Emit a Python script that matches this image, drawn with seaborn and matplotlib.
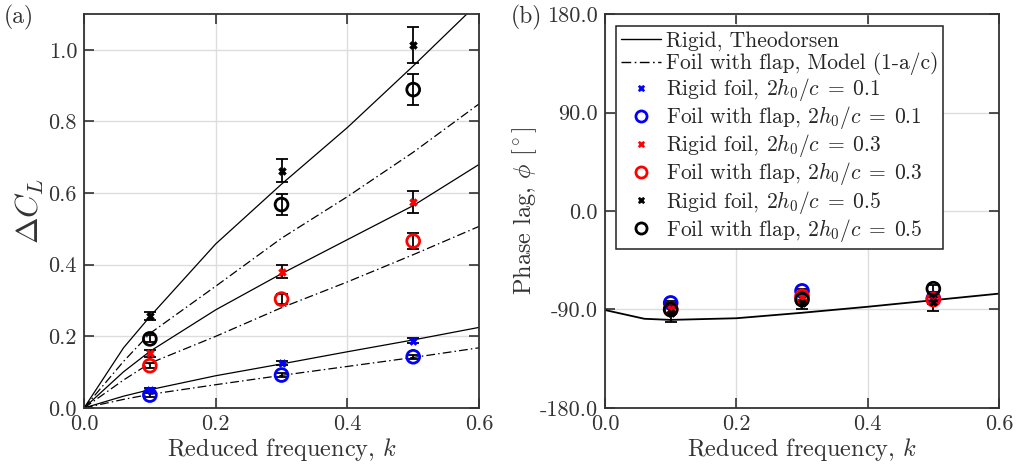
import numpy as np
import pandas as pd
import matplotlib
matplotlib.use('Agg')
import matplotlib.pyplot as plt
from matplotlib.lines import Line2D
from matplotlib.ticker import FormatStrFormatter
import seaborn as sns

# ============================================================
# DATA
# ============================================================

k_exp = [0.1, 0.3, 0.5]
amps = ['0.1', '0.3', '0.5']
colors = ['blue', 'red', 'black']

# Lift amplitude, experiment
cl_rigid = {'0.1': [0.050, 0.125, 0.188],
            '0.3': [0.153, 0.381, 0.575],
            '0.5': [0.257, 0.663, 1.013]}
cl_rigid_err = {'0.1': [0.006, 0.006, 0.007],
                '0.3': [0.010, 0.018, 0.030],
                '0.5': [0.010, 0.032, 0.050]}
cl_flap = {'0.1': [0.036, 0.092, 0.143],
           '0.3': [0.118, 0.304, 0.466],
           '0.5': [0.193, 0.568, 0.889]}
cl_flap_err = {'0.1': [0.005, 0.005, 0.006],
               '0.3': [0.007, 0.015, 0.023],
               '0.5': [0.010, 0.029, 0.043]}

# Model curves
k_model = [0.0, 0.06, 0.1, 0.2, 0.3, 0.4, 0.5, 0.6]
cl_theo = {'0.1': [0.0, 0.033, 0.051, 0.090, 0.123, 0.157, 0.190, 0.225],
           '0.3': [0.0, 0.101, 0.158, 0.274, 0.375, 0.470, 0.565, 0.680],
           '0.5': [0.0, 0.168, 0.255, 0.458, 0.625, 0.783, 0.955, 1.133]}
cl_model = {'0.1': [0.0, 0.024, 0.038, 0.065, 0.091, 0.116, 0.141, 0.168],
            '0.3': [0.0, 0.078, 0.125, 0.200, 0.280, 0.352, 0.428, 0.507],
            '0.5': [0.0, 0.130, 0.208, 0.340, 0.474, 0.590, 0.714, 0.849]}

# Phase lag
phase_theo = [-90.5, -98.5, -99.5, -98.0, -93.0, -87.5, -81.5, -75.5]
ph_rigid = {'0.1': [-86, -76, -81], '0.3': [-90, -79, -82], '0.5': [-93, -84, -83]}
ph_rigid_err = {'0.1': [2, 2, 2], '0.3': [3, 3, 3], '0.5': [8, 6, 8]}
ph_flap = {'0.1': [-84, -73, -80], '0.3': [-90, -78, -81], '0.5': [-90, -81, -71]}
ph_flap_err = {'0.1': [2, 2, 2], '0.3': [3, 3, 3], '0.5': [4, 4, 3]}

# ============================================================
# STYLE
# ============================================================

sns.set_style('ticks')
plt.rcParams['font.family'] = ['cmr10', 'DejaVu Serif']
plt.rcParams['mathtext.fontset'] = 'cm'
plt.rcParams['axes.unicode_minus'] = False
plt.rcParams['axes.formatter.use_mathtext'] = True

fig = plt.figure(figsize=(10.16, 4.69), dpi=100)
ax1 = fig.add_axes([0.0827, 0.1301, 0.3888, 0.8400])
ax2 = fig.add_axes([0.5955, 0.1301, 0.3878, 0.8400])

dashdot = (0, (7, 2.5, 1.2, 2.5))
txtcol = '#333333'


def style_axes(ax):
    ax.grid(True, color='#dddddd', linewidth=1.0)
    ax.set_axisbelow(True)
    for s in ax.spines.values():
        s.set_color(txtcol)
        s.set_linewidth(1.3)
    ax.tick_params(direction='in', length=7, width=1.2, top=True, right=True,
                   labelsize=16, colors=txtcol, labelcolor=txtcol, pad=5)
    ax.set_xlim(0, 0.6)
    ax.set_xticks([0, 0.2, 0.4, 0.6])
    ax.xaxis.set_major_formatter(FormatStrFormatter('%.1f'))
    ax.yaxis.set_major_formatter(FormatStrFormatter('%.1f'))
    ax.set_xlabel(r'Reduced frequency, $k$', fontsize=17.5, color=txtcol, labelpad=1)


def plot_points(ax, y, yerr, col, marker):
    ax.errorbar(k_exp, y, yerr=yerr, fmt='none', ecolor='black',
                elinewidth=1.3, capsize=4, capthick=1.3, zorder=3)
    df = pd.DataFrame({'k': k_exp, 'v': y})
    if marker == 'x':
        sns.scatterplot(data=df, x='k', y='v', ax=ax, marker='X', s=30,
                        color=col, edgecolor=col, linewidth=0.5, zorder=4)
    else:
        sns.scatterplot(data=df, x='k', y='v', ax=ax, marker='o', s=85,
                        facecolor='none', edgecolor=col, linewidth=2.0, zorder=4)


# ============================================================
# (a) LIFT AMPLITUDE
# ============================================================

for amp in amps:
    d1 = pd.DataFrame({'k': k_model, 'v': cl_theo[amp]})
    d2 = pd.DataFrame({'k': k_model, 'v': cl_model[amp]})
    sns.lineplot(data=d1, x='k', y='v', ax=ax1, color='black', linewidth=0.9)
    sns.lineplot(data=d2, x='k', y='v', ax=ax1, color='black', linewidth=0.9,
                 linestyle=dashdot)

for amp, col in zip(amps, colors):
    plot_points(ax1, cl_rigid[amp], cl_rigid_err[amp], col, 'x')
    plot_points(ax1, cl_flap[amp], cl_flap_err[amp], col, 'o')

style_axes(ax1)
ax1.set_ylim(0, 1.1)
ax1.set_yticks([0, 0.2, 0.4, 0.6, 0.8, 1.0])
ax1.set_ylabel(r'$\Delta C_L$', fontsize=23, color=txtcol, labelpad=2)

# ============================================================
# (b) PHASE LAG
# ============================================================

dph = pd.DataFrame({'k': k_model, 'v': phase_theo})
sns.lineplot(data=dph, x='k', y='v', ax=ax2, color='black', linewidth=1.3)

for amp, col in zip(amps, colors):
    plot_points(ax2, ph_rigid[amp], ph_rigid_err[amp], col, 'x')
    plot_points(ax2, ph_flap[amp], ph_flap_err[amp], col, 'o')

style_axes(ax2)
ax2.set_ylim(-180, 180)
ax2.set_yticks([-180, -90, 0, 90, 180])
ax2.set_ylabel(r'Phase lag, $\phi$ [$^\circ$]', fontsize=17.5, color=txtcol, labelpad=1)

handles = [Line2D([], [], color='black', linewidth=1.0),
           Line2D([], [], color='black', linewidth=1.0, linestyle=dashdot)]
labels = ['Rigid, Theodorsen', 'Foil with flap, Model (1-a/c)']
for amp, col in zip(amps, colors):
    handles.append(Line2D([], [], linestyle='none', marker='X', markersize=5,
                          color=col, markeredgewidth=0.5))
    labels.append(r'Rigid foil, $2h_0/c\;=\;%s$' % amp)
    handles.append(Line2D([], [], linestyle='none', marker='o', markersize=8,
                          markerfacecolor='none', markeredgecolor=col,
                          markeredgewidth=2.0))
    labels.append(r'Foil with flap, $2h_0/c\;=\;%s$' % amp)

leg = ax2.legend(handles, labels, loc='upper left', bbox_to_anchor=(0.028, 0.97),
                 fontsize=15.5, frameon=True, fancybox=False, edgecolor='#222222',
                 framealpha=1.0, borderpad=0.25, labelspacing=0.05,
                 handlelength=1.85, handletextpad=0.2, borderaxespad=0.0)
leg.get_frame().set_linewidth(1.1)

fig.text(0.004, 0.962, '(a)', fontsize=17, color=txtcol, va='center')
fig.text(0.503, 0.962, '(b)', fontsize=17, color=txtcol, va='center')

plt.savefig('out.png', dpi=100)
plt.close()
